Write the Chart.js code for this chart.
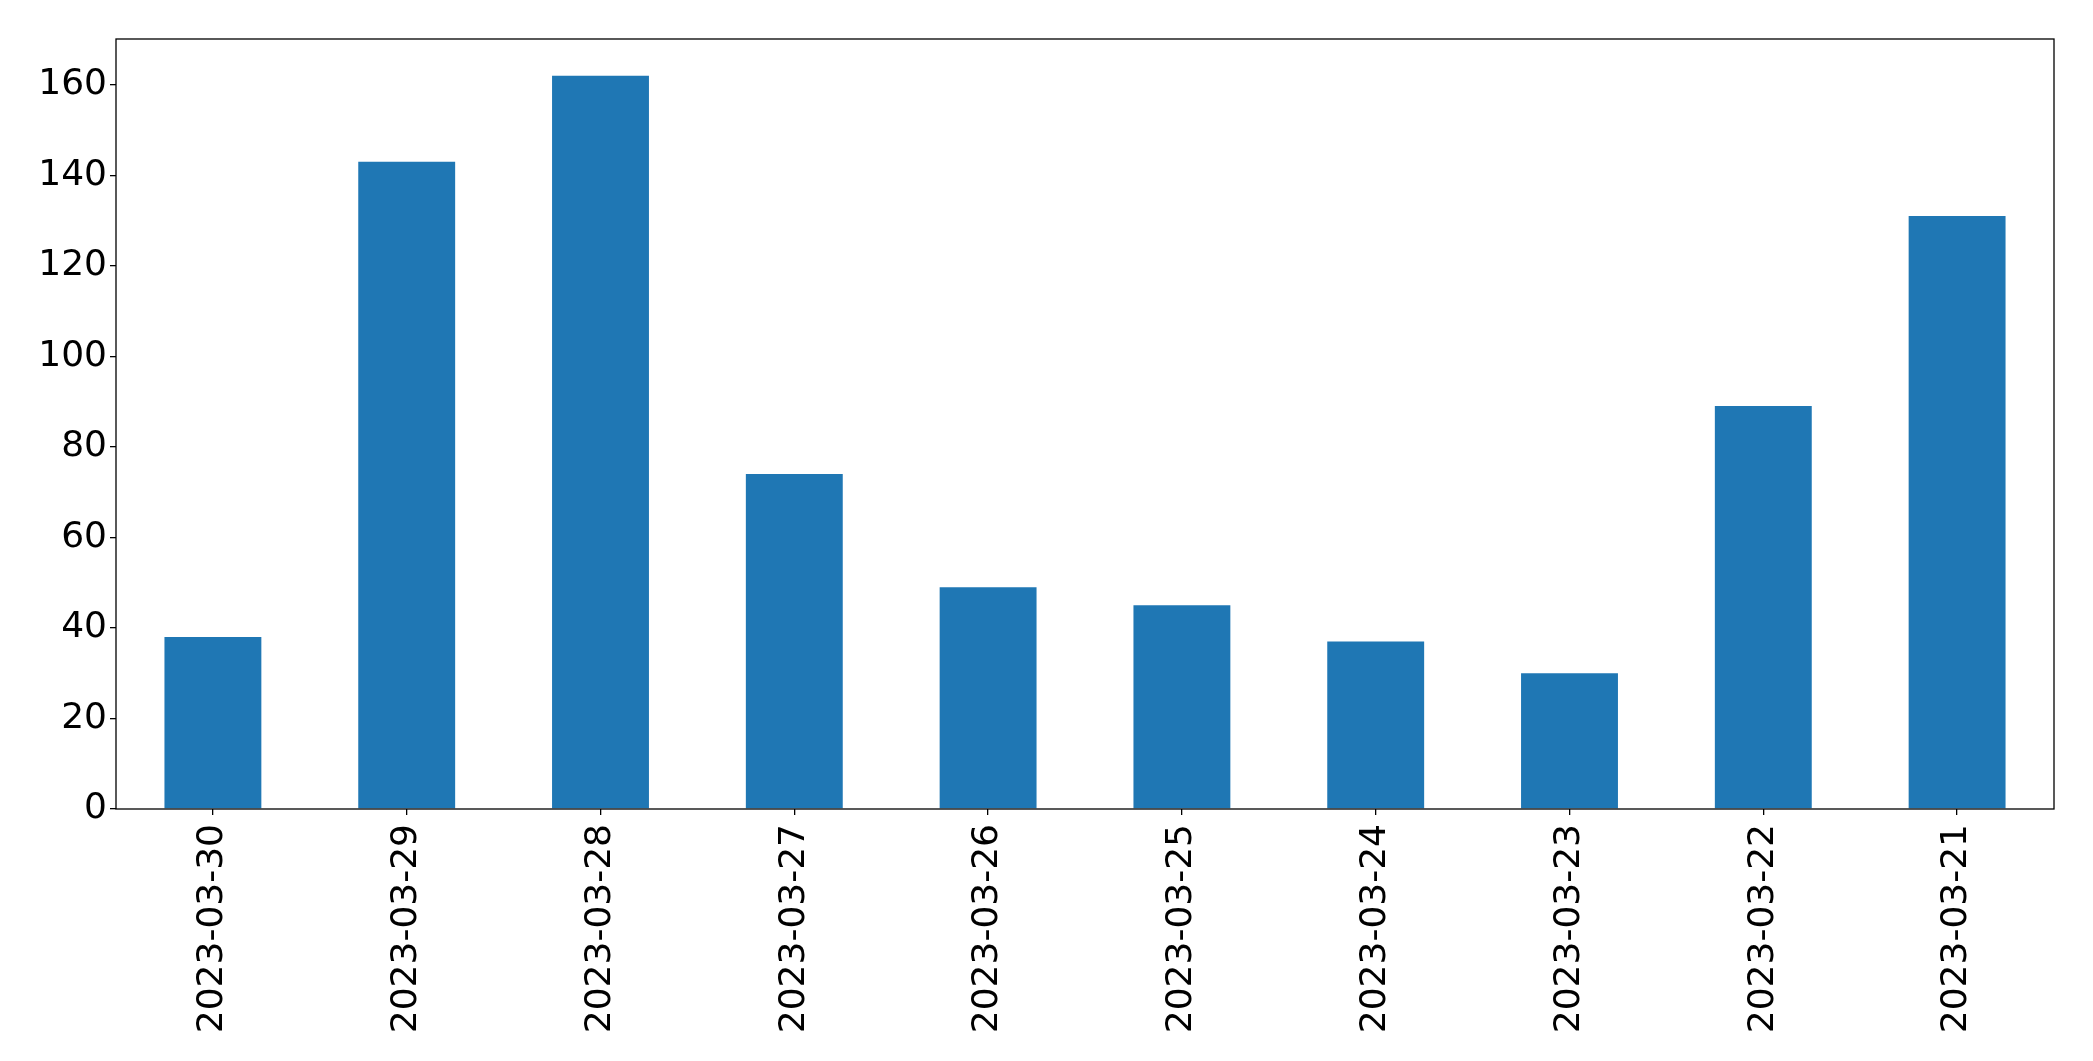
<!DOCTYPE html>
<html>
<head>
<meta charset="utf-8">
<script src="https://cdn.jsdelivr.net/npm/chart.js@4/dist/chart.umd.min.js"></script>
<style>
    html, body { margin: 0; padding: 0; background: #fff; }
    #wrap { width: 2093px; height: 1061px; }
</style>
</head>
<body>
<div id="wrap"><canvas id="chart" width="2093" height="1061"></canvas></div>
<script>
// dates as in the picture (newest first)
const dates = ['2023-03-30', '2023-03-29', '2023-03-28', '2023-03-27', '2023-03-26',
               '2023-03-25', '2023-03-24', '2023-03-23', '2023-03-22', '2023-03-21'];
const counts = [38, 143, 162, 74, 49, 45, 37, 30, 89, 131];
const yTicks = [0, 20, 40, 60, 80, 100, 120, 140, 160];

const FONT = { family: 'DejaVu Sans', size: 36 };

// box around the plot area, like the matplotlib frame
const frame = {
    id: 'frame',
    afterDraw(chart) {
        const { ctx, chartArea: a } = chart;
        ctx.save();
        ctx.strokeStyle = '#000';
        ctx.lineWidth = 1.3;
        ctx.strokeRect(a.left, a.top, a.right - a.left, a.bottom - a.top);
        ctx.restore();
    }
};

new Chart(document.getElementById('chart'), {
    type: 'bar',
    data: {
        labels: dates,
        datasets: [{
            data: counts,
            backgroundColor: '#1f77b4',
            borderWidth: 0,
            categoryPercentage: 1.0,
            barPercentage: 0.5
        }]
    },
    options: {
        responsive: false,
        animation: false,
        layout: { padding: { top: 39, right: 39, left: 0, bottom: 0 } },
        plugins: { legend: { display: false }, tooltip: { enabled: false } },
        scales: {
            x: {
                grid: { display: true, offset: false, drawOnChartArea: false, drawTicks: true, tickLength: 6, color: '#000', lineWidth: 1.3 },
                border: { display: false },
                ticks: { color: '#000', font: FONT, minRotation: 90, maxRotation: 90, padding: 9, autoSkip: false },
                afterFit(scale) { scale.height = 252; }
            },
            y: {
                min: 0,
                max: 170.1,
                grid: { display: true, drawOnChartArea: false, drawTicks: true, tickLength: 6, color: '#000', lineWidth: 1.3 },
                border: { display: false },
                ticks: { color: '#000', font: FONT, padding: 3 },
                afterBuildTicks(scale) { scale.ticks = yTicks.map(v => ({ value: v })); },
                afterFit(scale) { scale.width = 116; }
            }
        }
    },
    plugins: [frame]
});
</script>
</body>
</html>
